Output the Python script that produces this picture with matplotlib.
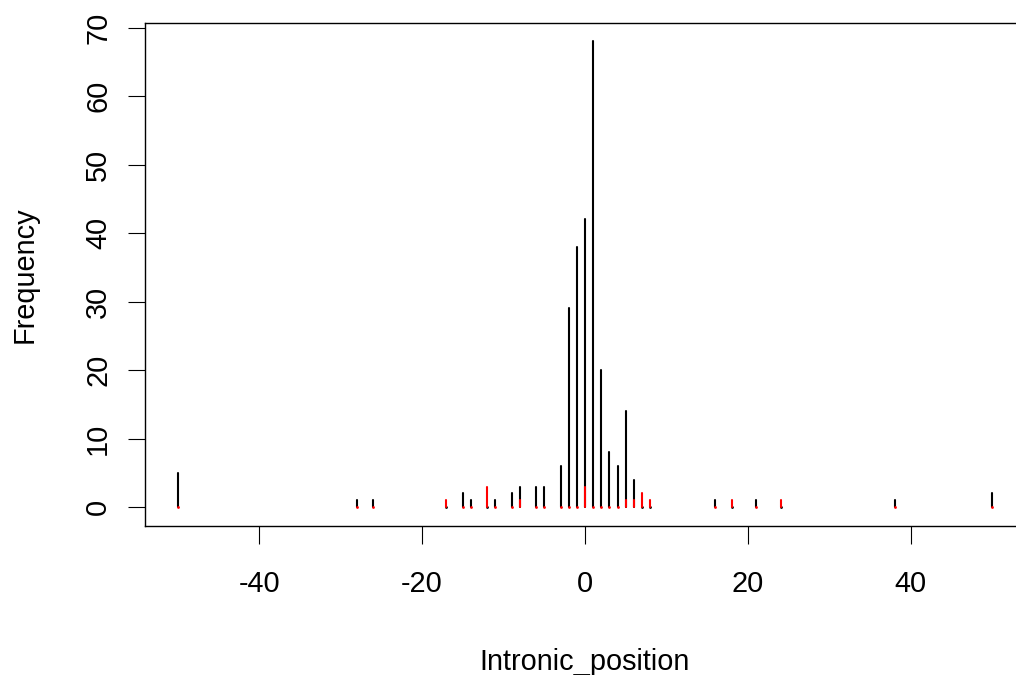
import numpy as np
import matplotlib
matplotlib.use("Agg")
import matplotlib.pyplot as plt

# intronic positions and counts (two groups)
positions = np.array([-50, -28, -26, -17, -15, -14, -12, -11, -9, -8, -6, -5, -3, -2, -1,
                      0, 1, 2, 3, 4, 5, 6, 7, 8, 16, 18, 21, 24, 38, 50])
black_counts = np.array([5, 1, 1, 0, 2, 1, 0, 1, 2, 3, 3, 3, 6, 29, 38,
                         42, 68, 20, 8, 6, 14, 4, 0, 0, 1, 0, 1, 0, 1, 2])
red_counts = np.array([0, 0, 0, 1, 0, 0, 3, 0, 0, 1, 0, 0, 0, 0, 0,
                       3, 0, 0, 0, 0, 1, 1, 2, 1, 0, 1, 0, 1, 0, 0])
x_ticks = [-40, -20, 0, 20, 40]
y_ticks = [0, 10, 20, 30, 40, 50, 60, 70]

plt.rcParams['font.family'] = ['Liberation Sans', 'DejaVu Sans']
plt.rcParams['axes.unicode_minus'] = False
fs = 20.8

fig = plt.figure(figsize=(10.16, 6.75), dpi=100)
ax = fig.add_axes([145 / 1016, 1 - 525.7 / 675, 880 / 1016, 503 / 675])

# histogram-like spikes (R type="h"), red drawn over black
ax.vlines(positions, 0, black_counts, color='black', lw=1.5, capstyle='round')
zb = black_counts == 0
ax.plot(positions[zb], black_counts[zb], 'o', color='black', ms=2, mew=0)
ax.vlines(positions, 0, red_counts, color='red', lw=1.5, capstyle='round')
zr = red_counts == 0
ax.plot(positions[zr], red_counts[zr], 'o', color='red', ms=2, mew=0)

ax.set_xlim(-54, 54)
ax.set_ylim(-2.72, 70.72)
ax.set_xticks(x_ticks)
ax.set_yticks(y_ticks)
ax.tick_params(direction='out', length=12.6, width=0.8, labelsize=fs, color='black')
ax.tick_params(axis='x', pad=19)
ax.tick_params(axis='y', pad=11, labelrotation=90)
for lab in ax.get_yticklabels():
    lab.set_va('center')

for s in ax.spines.values():
    s.set_linewidth(1.0)

ax.set_xlabel('Intronic_position', fontsize=fs, labelpad=36.5)
ax.set_ylabel('Frequency', fontsize=fs, labelpad=33)

fig.savefig('out.png', dpi=100)
